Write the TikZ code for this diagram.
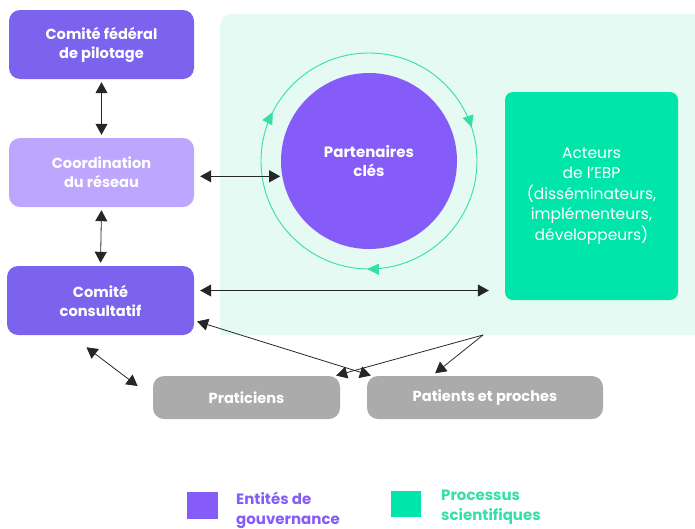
\documentclass[tikz,border=0pt]{standalone}
\usepackage{fontspec}
\setmainfont{Poppins}
\usetikzlibrary{arrows.meta,decorations.markings}
\definecolor{govpurple}{RGB}{124,99,238}
\definecolor{lightpurple}{RGB}{188,166,254}
\definecolor{keypurple}{RGB}{134,92,248}
\definecolor{mintbg}{RGB}{228,250,243}
\definecolor{sciteal}{RGB}{0,229,169}
\definecolor{ringteal}{RGB}{51,223,170}
\definecolor{pracgray}{RGB}{171,171,171}
\begin{document}
\begin{tikzpicture}[x=1pt,y=-1pt,
	box/.style={rounded corners=11pt,fill=#1,text=white,align=center,inner sep=0pt,
		font=\fontsize{14.6}{19}\selectfont\bfseries},
	dbl/.style={{Triangle[length=11pt,width=12pt]}-{Triangle[length=11pt,width=12pt]},draw=black!85,line width=0.8pt},
	one/.style={-{Triangle[length=11pt,width=12pt]},draw=black!85,line width=0.8pt},
	legtext/.style={anchor=west,align=left,inner sep=0pt,font=\fontsize{15}{20}\selectfont\bfseries}]
	\useasboundingbox (0,0) rectangle (695,528);
	% zone des processus scientifiques
	\path[fill=mintbg] (695,14) [rounded corners=12pt] -- (220,14) [sharp corners] -- (220,335) -- (695,335) -- cycle;
	% entites de gouvernance
	\node[box=govpurple,minimum width=185pt,minimum height=69pt] (fed) at (101.5,44.5) {Comité fédéral\\de pilotage};
	\node[box=lightpurple,minimum width=185pt,minimum height=69pt] (coord) at (101.5,172.5) {Coordination\\du réseau};
	\node[box=govpurple,minimum width=187pt,minimum height=69pt] (consult) at (100.5,300.5) {Comité\\consultatif};
	\node[box=pracgray,minimum width=187pt,minimum height=43pt] (prat) at (246.5,397.5) {Praticiens};
	\node[box=pracgray,minimum width=236pt,minimum height=43pt] (patients) at (485,397.5) {Patients et proches};
	% processus scientifiques
	\node[circle,fill=keypurple,text=white,align=center,minimum size=176pt,inner sep=0pt,
		font=\fontsize{15}{19}\selectfont\bfseries] (part) at (369,161) {Partenaires\\clés};
	\path[draw=ringteal,line width=0.9pt,postaction={decorate},
		decoration={markings,
			mark=at position 0.253 with {\arrow[ringteal]{Triangle[length=12pt,width=11pt]}},
			mark=at position 0.575 with {\arrow[ringteal]{Triangle[length=12pt,width=11pt]}},
			mark=at position 0.95 with {\arrow[ringteal]{Triangle[length=12pt,width=11pt]}}}]
		(part.center) circle[radius=108];
	\node[box=sciteal,rounded corners=8pt,minimum width=173pt,minimum height=208pt,
		font=\fontsize{15.5}{20.5}\selectfont] (acteurs) at (591.5,196) {Acteurs\\de l’EBP\\(disséminateurs,\\implémenteurs,\\développeurs)};
	\coordinate (src) at (483,335);
	% liens
	\path[dbl,shorten <=3pt,shorten >=3pt] (fed.south) -- (coord.north);
	\path[dbl,shorten <=3pt,shorten >=3pt] (coord.south) -- (consult.north);
	\path[dbl,shorten <=6pt,shorten >=2pt] (coord.east |- part.190) -- (part.190);
	\path[dbl,shorten <=6pt,shorten >=16pt] ([yshift=10pt]consult.east) -- ([yshift=10pt]consult.east -| acteurs.west);
	\path[dbl,shorten <=20pt,shorten >=19pt] ([xshift=-30pt]consult.south) -- (prat.west);
	\path[dbl,shorten <=3pt,shorten >=1pt] ([yshift=-20pt]consult.east) -- ([xshift=5pt]patients.north west);
	\path[one,shorten >=1pt] (src) -- ([xshift=-5pt]prat.north east);
	\path[one,shorten >=4pt] (src) -- ([xshift=-53pt]patients.north);
	% legende
	\node[fill=keypurple,minimum width=31pt,minimum height=27pt,inner sep=0pt] (legov) at (202.5,505.5) {};
	\node[legtext,text=keypurple] (legovtext) at (236,510) {Entités de\\gouvernance};
	\node[fill=sciteal,minimum width=30pt,minimum height=26pt,inner sep=0pt] (lesci) at (406,504) {};
	\node[legtext,text=ringteal] (lescitext) at (441,507) {Processus\\scientifiques};
\end{tikzpicture}
\end{document}
